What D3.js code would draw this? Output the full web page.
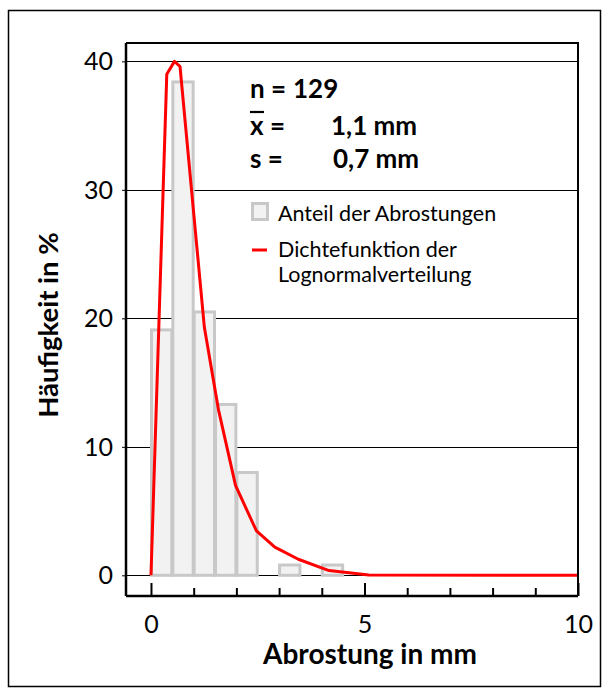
<!DOCTYPE html>
<html>
<head>
<meta charset="utf-8">
<script src="https://cdn.jsdelivr.net/npm/d3@7/dist/d3.min.js"></script>
<style>
  html, body { margin: 0; padding: 0; background: #fff; }
  svg { display: block; }
  text { font-family: Lato, "Noto Sans", sans-serif; fill: #000; }
</style>
</head>
<body>
<svg id="chart" width="609" height="695"></svg>
<script>
// Histogram of rust depths (bins of 0.5 mm) with fitted lognormal density
const binStarts = [0, 0.5, 1, 1.5, 2, 2.5, 3, 3.5, 4];
const binWidth = 0.5;
const shares = [19.1, 38.4, 20.5, 13.3, 8.0, 0, 0.8, 0, 0.8];

const curveX = [0, 0.37, 0.55, 0.68, 1.25, 1.58, 1.98, 2.47, 2.9, 3.45, 4.17, 5.1, 10];
const curveY = [0, 39.0, 40.0, 39.6, 19.3, 12.9, 7.0, 3.45, 2.2, 1.25, 0.37, 0.02, 0];

const yTicks = [0, 10, 20, 30, 40];
const xMajorTicks = [0, 5, 10];
const xMinorTicks = [1, 2, 3, 4, 6, 7, 8, 9];

const statLabels = ["n =", "x =", "s ="];
const statValues = ["129", "1,1 mm", "0,7 mm"];
const legendLabels = ["Anteil der Abrostungen", ["Dichtefunktion der", "Lognormalverteilung"]];
const xTitle = "Abrostung in mm";
const yTitle = "Häufigkeit in %";

const svg = d3.select("#chart");
const plot = { left: 126, right: 578, top: 43, bottom: 596 };

const x = d3.scaleLinear().domain([-0.585, 10]).range([plot.left, plot.right]);
const y = d3.scaleLinear().domain([-1.61, 41.43]).range([plot.bottom, plot.top]);

// outer frame
svg.append("rect")
  .attr("x", 8.5).attr("y", 10.5).attr("width", 592).attr("height", 676)
  .attr("fill", "none").attr("stroke", "#000").attr("stroke-width", 1.5);

// horizontal gridlines
svg.append("g").selectAll("line").data(yTicks).join("line")
  .attr("x1", plot.left).attr("x2", plot.right)
  .attr("y1", d => Math.round(y(d)) + 0.5).attr("y2", d => Math.round(y(d)) + 0.5)
  .attr("stroke", "#000").attr("stroke-width", 1);

// bars
svg.append("g").selectAll("rect").data(binStarts.map((s, i) => ({ s, v: shares[i] })).filter(d => d.v > 0))
  .join("rect")
  .attr("x", d => x(d.s) + 0.5)
  .attr("width", d => x(d.s + binWidth) - x(d.s) - 1)
  .attr("y", d => y(d.v))
  .attr("height", d => y(0) - y(d.v))
  .attr("fill", "#f2f2f2")
  .attr("stroke", "#c8c8c8")
  .attr("stroke-width", 3);

// density curve
const line = d3.line().x(d => x(d[0])).y(d => y(d[1]));
svg.append("path")
  .datum(curveX.map((v, i) => [v, curveY[i]]))
  .attr("d", line)
  .attr("fill", "none")
  .attr("stroke", "#ff0000")
  .attr("stroke-width", 3)
  .attr("stroke-linejoin", "round");

// plot frame (top and right)
svg.append("path")
  .attr("d", `M${plot.left},${plot.top}H${plot.right}V${plot.bottom}`)
  .attr("fill", "none").attr("stroke", "#000").attr("stroke-width", 2);

// y axis
const yAxis = svg.append("g")
  .attr("transform", `translate(${plot.left},0)`)
  .call(d3.axisLeft(y).tickValues(yTicks).tickSize(4).tickPadding(9).tickFormat(d3.format("d")));
yAxis.select(".domain").attr("stroke-width", 2.5).attr("d", `M0,${plot.top}V${plot.bottom}`);
yAxis.selectAll("text").style("font-size", "25px").style("font-family", "Lato").attr("dy", "0.34em");

// x axis: minor and major ticks pointing inward
const xMinor = svg.append("g")
  .attr("transform", `translate(0,${plot.bottom})`)
  .call(d3.axisBottom(x).tickValues(xMinorTicks).tickSize(-8).tickFormat(""));
xMinor.select(".domain").remove();
xMinor.selectAll("line").attr("stroke-width", 2);

const xAxis = svg.append("g")
  .attr("transform", `translate(0,${plot.bottom})`)
  .call(d3.axisBottom(x).tickValues(xMajorTicks).tickSize(-13).tickPadding(19).tickFormat(d3.format("d")));
xAxis.select(".domain").attr("stroke-width", 2.5).attr("d", `M${plot.left},0H${plot.right}`);
xAxis.selectAll("line").attr("stroke-width", 2);
xAxis.selectAll("text").style("font-size", "25px").style("font-family", "Lato");

// axis titles
svg.append("text")
  .attr("x", 370).attr("y", 664)
  .attr("text-anchor", "middle")
  .style("font-size", "28px").style("font-weight", "bold")
  .text(xTitle);

svg.append("text")
  .attr("transform", "translate(58,325) rotate(-90)")
  .attr("text-anchor", "middle")
  .style("font-size", "27.5px").style("font-weight", "bold")
  .text(yTitle);

// statistics block
const statRows = [98, 135, 168];
const statSize = "26px";
const stats = svg.append("g");
statLabels.forEach((lab, i) => {
  const t = stats.append("text")
    .attr("x", 250).attr("y", statRows[i])
    .style("font-size", statSize).style("font-weight", "bold")
    .attr("xml:space", "preserve");
  if (i === 1) {
    const xs = t.append("tspan").text("x");
    t.append("tspan").text(" =");
    const bb = xs.node().getBBox();
    stats.append("line")
      .attr("x1", bb.x).attr("x2", bb.x + bb.width)
      .attr("y1", bb.y + 3).attr("y2", bb.y + 3)
      .attr("stroke", "#000").attr("stroke-width", 2.2);
  } else {
    t.text(lab);
  }
});
const valueX = [293, 331, 333];
statValues.forEach((v, i) => {
  stats.append("text").attr("x", valueX[i]).attr("y", statRows[i])
    .style("font-size", statSize).style("font-weight", "bold").text(v);
});

// legend
const legend = svg.append("g");
legend.append("rect")
  .attr("x", 252.5).attr("y", 203.5).attr("width", 15).attr("height", 16)
  .attr("fill", "#f2f2f2").attr("stroke", "#c8c8c8").attr("stroke-width", 3);
legend.append("text").attr("x", 278).attr("y", 221)
  .style("font-size", "21.5px").text(legendLabels[0]);
legend.append("line")
  .attr("x1", 252).attr("x2", 267).attr("y1", 250).attr("y2", 250)
  .attr("stroke", "#ff0000").attr("stroke-width", 3);
legendLabels[1].forEach((s, i) => {
  legend.append("text").attr("x", 278).attr("y", 257 + i * 25)
    .style("font-size", "21.5px").text(s);
});
</script>
</body>
</html>
